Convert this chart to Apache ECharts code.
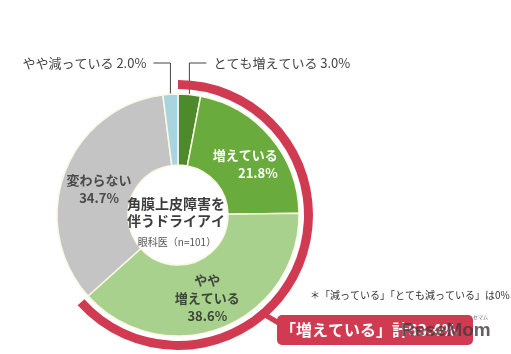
<!DOCTYPE html>
<html>
<head>
<meta charset="utf-8">
<script src="https://cdn.jsdelivr.net/npm/echarts@6/dist/echarts.min.js"></script>
<style>
  html, body { margin: 0; padding: 0; background: #fff; }
  #chart { width: 511px; height: 354px; }
</style>
</head>
<body>
<div id="chart"></div>
<script>
// 回答の内訳（時計回り、上から）
var names = ['とても増えている', '増えている', 'やや増えている', '変わらない', 'やや減っている'];
var values = [3.0, 21.8, 38.6, 34.7, 2.0];
var colors = ['#4e8a2c', '#6aab3d', '#a9d18e', '#c4c4c4', '#a8d4df'];
var labelColors = ['#444', '#fff', '#3e4638', '#4a4a4a', '#444'];

var centerLines = ['角膜上皮障害を', '伴うドライアイ'];
var centerSub = '眼科医（n=101）';
var note = '＊「減っている」「とても減っている」は0%';

var RED = '#d13b52';
var FONT = '"Noto Sans CJK JP", "Noto Sans", sans-serif';

// 「増えている」計（上位3項目）
var increase = Math.round((values[0] + values[1] + values[2]) * 10) / 10;
var others = Math.round((values[3] + values[4]) * 10) / 10;

function pct(v) { return v.toFixed(1) + '%'; }

var pieData = names.map(function (n, i) {
    var item = {
        name: n,
        value: values[i],
        itemStyle: { color: colors[i] },
        label: { color: labelColors[i] }
    };
    if (i === 0 || i === 4) {
        item.label = {
            position: 'outside',
            formatter: function (p) { return p.name + ' ' + pct(p.value); },
            color: labelColors[i],
            fontSize: 13,
            fontWeight: 'normal'
        };
        item.labelLine = { show: true, lineStyle: { color: '#444', width: 1 } };
    } else if (i === 1) {
        item.label = {
            color: labelColors[i],
            formatter: function (p) { return '{r|' + p.name + '}\n{r|' + pct(p.value) + '}'; },
            rich: { r: { width: 64, align: 'right', color: '#fff', fontSize: 13, fontWeight: 'bold', lineHeight: 18, fontFamily: FONT } }
        };
    } else if (i === 2) {
        item.label = {
            color: labelColors[i],
            formatter: function (p) { return 'やや\n' + p.name.replace('やや', '') + '\n' + pct(p.value); }
        };
    }
    return item;
});

var chart = echarts.init(document.getElementById('chart'));
var option = {
    backgroundColor: '#fff',
    animation: false,
    textStyle: { fontFamily: FONT },
    series: [
        {
            type: 'pie',
            center: [178, 215],
            radius: [50, 121],
            startAngle: 90,
            clockwise: true,
            avoidLabelOverlap: false,
            silent: true,
            itemStyle: { borderColor: '#fbf8e6', borderWidth: 1.5 },
            label: {
                show: true,
                position: 'inside',
                formatter: function (p) { return p.name + '\n' + pct(p.value); },
                fontFamily: FONT,
                fontSize: 13,
                fontWeight: 'bold',
                lineHeight: 18
            },
            labelLayout: function (params) {
                var i = params.dataIndex;
                var pts = params.labelLinePoints;
                if ((i === 0 || i === 4) && pts) {
                    var sx = pts[0][0], sy = pts[0][1];
                    var ly = 63;
                    var dir = i === 0 ? 1 : -1;
                    return {
                        x: sx + dir * 24,
                        y: ly,
                        align: i === 0 ? 'left' : 'right',
                        verticalAlign: 'middle',
                        labelLinePoints: [[sx, sy + 6], [sx, ly], [sx + dir * 17, ly]]
                    };
                }
                var shift = { 1: [0, 6], 2: [-3, 1], 3: [4, 5] };
                var s = shift[i] || [0, 0];
                return { dx: s[0], dy: s[1] };
            },
            data: pieData
        },
        {
            type: 'pie',
            center: [178, 215],
            radius: [126, 135],
            startAngle: 90,
            clockwise: true,
            silent: true,
            label: { show: false },
            labelLine: { show: false },
            itemStyle: { borderWidth: 0 },
            data: [
                { value: increase, itemStyle: { color: RED } },
                { value: others, itemStyle: { color: 'rgba(0,0,0,0)' } }
            ]
        }
    ],
    graphic: [
        {
            type: 'text', x: 176, y: 204, z: 10,
            style: {
                text: centerLines[0], font: 'bold 14px ' + FONT, fill: '#3c3c3c',
                textAlign: 'center', textVerticalAlign: 'middle'
            }
        },
        {
            type: 'text', x: 176, y: 221, z: 10,
            style: {
                text: centerLines[1], font: 'bold 14px ' + FONT, fill: '#3c3c3c',
                textAlign: 'center', textVerticalAlign: 'middle'
            }
        },
        {
            type: 'text', x: 177, y: 242, z: 10,
            style: {
                text: centerSub, font: '10px ' + FONT, fill: '#555',
                textAlign: 'center', textVerticalAlign: 'middle'
            }
        },
        {
            type: 'text', x: 310, y: 295, z: 10,
            style: {
                text: note, font: '10px ' + FONT, fill: '#333',
                textVerticalAlign: 'middle'
            }
        },
        {
            type: 'line', z: 5,
            shape: { x1: 262, y1: 313, x2: 282, y2: 325 },
            style: { stroke: RED, lineWidth: 5 }
        },
        {
            type: 'rect', z: 6,
            shape: { x: 277, y: 315, width: 196, height: 30, r: 5 },
            style: { fill: RED }
        },
        {
            type: 'text', x: 280, y: 330, z: 7,
            style: {
                text: '「' + names[1] + '」計' + pct(increase),
                font: 'bold 16px ' + FONT, fill: '#fff', textVerticalAlign: 'middle'
            }
        },
        {
            type: 'text', x: 401, y: 331, z: 8,
            style: {
                text: 'ReseMom', font: 'bold 19px "Liberation Sans", Arial, sans-serif',
                fill: 'rgba(70,60,65,0.82)', textVerticalAlign: 'middle'
            }
        },
        {
            type: 'text', x: 468, y: 317, z: 8,
            style: {
                text: 'リセマム', font: '5px ' + FONT, fill: '#666',
                textVerticalAlign: 'middle'
            }
        }
    ]
};
chart.setOption(option);
</script>
</body>
</html>
